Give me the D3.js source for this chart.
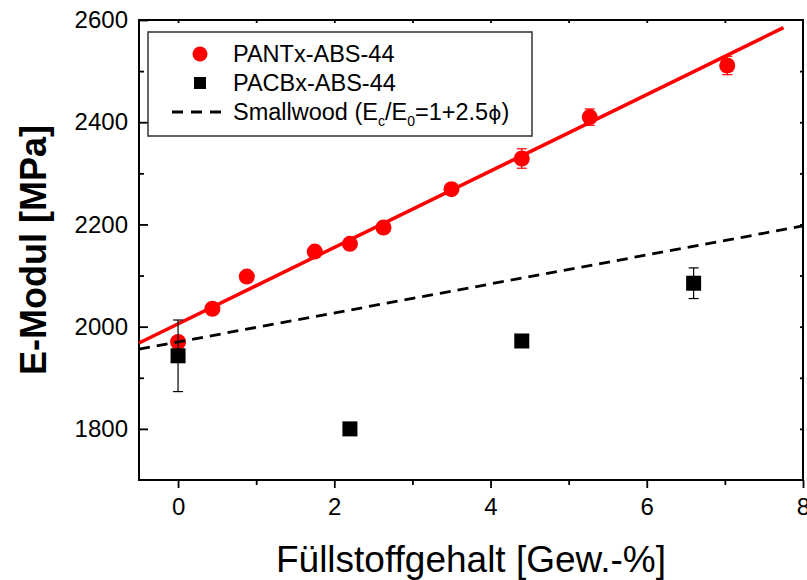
<!DOCTYPE html>
<html>
<head>
<meta charset="utf-8">
<script src="https://cdn.jsdelivr.net/npm/d3@7"></script>
<style>
  body { margin: 0; background: #fff; }
  svg { font-family: "Liberation Sans", Arial, sans-serif; }
</style>
</head>
<body>
<div id="chart"></div>
<script>
// data
var pantX = [0, 0.44, 0.88, 1.75, 2.2, 2.63, 3.5, 4.4, 5.27, 7.03];
var pantY = [1970, 2035, 2098, 2147, 2162, 2194, 2269, 2329, 2410, 2511];
var pantErr = [8, 5, 5, 6, 6, 5, 6, 19, 16, 18];

var pacbX = [0, 2.2, 4.4, 6.6];
var pacbY = [1943, 1800, 1972, 2085];
var pacbErr = [70, 4, 8, 30];

var fitX = [-0.5, 7.75];
var fitY = [1968, 2585];

var smallX = [-0.5, 8];
var smallY = [1956, 2197];

var xTicks = [0, 2, 4, 6, 8];
var xMinor = [1, 3, 5, 7];
var yTicks = [1800, 2000, 2200, 2400, 2600];
var yMinor = [1900, 2100, 2300, 2500];

var W = 807, H = 580;
var mLeft = 139, mRight = 803, mTop = 20, mBottom = 480;

var svg = d3.select("#chart").append("svg").attr("width", W).attr("height", H);

var x = d3.scaleLinear().domain([-0.5, 8]).range([mLeft, mRight]);
var y = d3.scaleLinear().domain([1700, 2600]).range([mBottom, mTop]);

// axes
svg.append("g").attr("transform", "translate(0," + mBottom + ")")
    .call(d3.axisBottom(x).tickValues(xTicks).tickSize(8).tickPadding(10).tickFormat(d3.format("d")));
svg.append("g").attr("transform", "translate(0," + mBottom + ")")
    .call(d3.axisBottom(x).tickValues(xMinor).tickSize(5).tickFormat(""));

svg.append("g").attr("transform", "translate(" + mLeft + ",0)")
    .call(d3.axisLeft(y).tickValues(yTicks).tickSize(-9).tickPadding(11).tickFormat(d3.format("d")));
svg.append("g").attr("transform", "translate(" + mLeft + ",0)")
    .call(d3.axisLeft(y).tickValues(yMinor).tickSize(-5).tickFormat(""));

// top / right small inward ticks
svg.append("g").attr("transform", "translate(0," + mTop + ")")
    .call(d3.axisTop(x).tickValues(xTicks.concat(xMinor).filter(function(d) { return d < 8; })).tickSize(-3).tickFormat(""));
svg.append("g").attr("transform", "translate(" + mRight + ",0)")
    .call(d3.axisRight(y).tickValues(yTicks.concat(yMinor).filter(function(d) { return d < 2600; })).tickSize(-3).tickFormat(""));

svg.selectAll(".domain").remove();
svg.selectAll(".tick line").attr("stroke", "#000").attr("stroke-width", 1.8);
svg.selectAll(".tick text").attr("fill", "#000")
    .style("font-size", "24px")
    .style("font-family", "'Liberation Sans', Arial, sans-serif");

// frame
svg.append("rect")
    .attr("x", mLeft).attr("y", mTop)
    .attr("width", mRight - mLeft).attr("height", mBottom - mTop)
    .attr("fill", "none").attr("stroke", "#000").attr("stroke-width", 2);

// axis titles
svg.append("text")
    .attr("x", (mLeft + mRight) / 2).attr("y", 572)
    .attr("text-anchor", "middle")
    .style("font-size", "37px")
    .text("Füllstoffgehalt [Gew.-%]");

svg.append("text")
    .attr("transform", "translate(46," + (mTop + mBottom) / 2 + ") rotate(-90)")
    .attr("text-anchor", "middle")
    .style("font-size", "36px").attr("font-weight", "bold")
    .text("E-Modul [MPa]");

// fit line
var line = d3.line().x(function(d) { return x(d[0]); }).y(function(d) { return y(d[1]); });
svg.append("path")
    .datum(d3.zip(fitX, fitY))
    .attr("d", line)
    .attr("fill", "none").attr("stroke", "#ff0000").attr("stroke-width", 3.5);

// error bars
function errBars(xs, ys, es, color) {
    var g = svg.append("g").attr("stroke", color).attr("stroke-width", 1.2);
    xs.forEach(function(xv, i) {
        var x0 = x(xv), y1 = y(ys[i] - es[i]), y2 = y(ys[i] + es[i]);
        g.append("line").attr("x1", x0).attr("x2", x0).attr("y1", y1).attr("y2", y2);
        g.append("line").attr("x1", x0 - 5).attr("x2", x0 + 5).attr("y1", y1).attr("y2", y1);
        g.append("line").attr("x1", x0 - 5).attr("x2", x0 + 5).attr("y1", y2).attr("y2", y2);
    });
}

errBars(pantX, pantY, pantErr, "#ff0000");
svg.append("g").selectAll("circle")
    .data(d3.zip(pantX, pantY))
    .enter().append("circle")
    .attr("cx", function(d) { return x(d[0]); })
    .attr("cy", function(d) { return y(d[1]); })
    .attr("r", 8)
    .attr("fill", "#ff0000");

// Smallwood dashed
svg.append("path")
    .datum(d3.zip(smallX, smallY))
    .attr("d", line)
    .attr("fill", "none").attr("stroke", "#000").attr("stroke-width", 2.8)
    .attr("stroke-dasharray", "11,7");

errBars(pacbX, pacbY, pacbErr, "#000");
svg.append("g").selectAll("rect")
    .data(d3.zip(pacbX, pacbY))
    .enter().append("rect")
    .attr("x", function(d) { return x(d[0]) - 7.5; })
    .attr("y", function(d) { return y(d[1]) - 7.5; })
    .attr("width", 15).attr("height", 15)
    .attr("fill", "#000");

// legend
var lg = svg.append("g");
lg.append("rect")
    .attr("x", 148).attr("y", 32).attr("width", 384).attr("height", 104)
    .attr("fill", "#fff").attr("stroke", "#333").attr("stroke-width", 1.5);
lg.append("circle").attr("cx", 200).attr("cy", 54).attr("r", 7.5).attr("fill", "#ff0000");
lg.append("rect").attr("x", 194).attr("y", 77).attr("width", 12).attr("height", 12).attr("fill", "#000");
lg.append("line").attr("x1", 172).attr("x2", 228).attr("y1", 112).attr("y2", 112)
    .attr("stroke", "#000").attr("stroke-width", 2.8).attr("stroke-dasharray", "11,8");

var legendLabels = ["PANTx-ABS-44", "PACBx-ABS-44"];
lg.selectAll("text.lab")
    .data(legendLabels)
    .enter().append("text")
    .attr("class", "lab")
    .attr("x", 233)
    .attr("y", function(d, i) { return 62 + i * 29; })
    .style("font-size", "23.5px")
    .text(function(d) { return d; });

var sm = lg.append("text").attr("x", 233).attr("y", 120).style("font-size", "23.5px");
sm.append("tspan").text("Smallwood (E");
sm.append("tspan").style("font-size", "14px").attr("dy", 6).text("c");
sm.append("tspan").attr("dy", -6).text("/E");
sm.append("tspan").style("font-size", "14px").attr("dy", 6).text("0");
sm.append("tspan").attr("dy", -6).text("=1+2.5");
sm.append("tspan").style("font-family", "'DejaVu Sans', sans-serif").style("font-size", "20px").text("ϕ");
sm.append("tspan").text(")");
</script>
</body>
</html>
